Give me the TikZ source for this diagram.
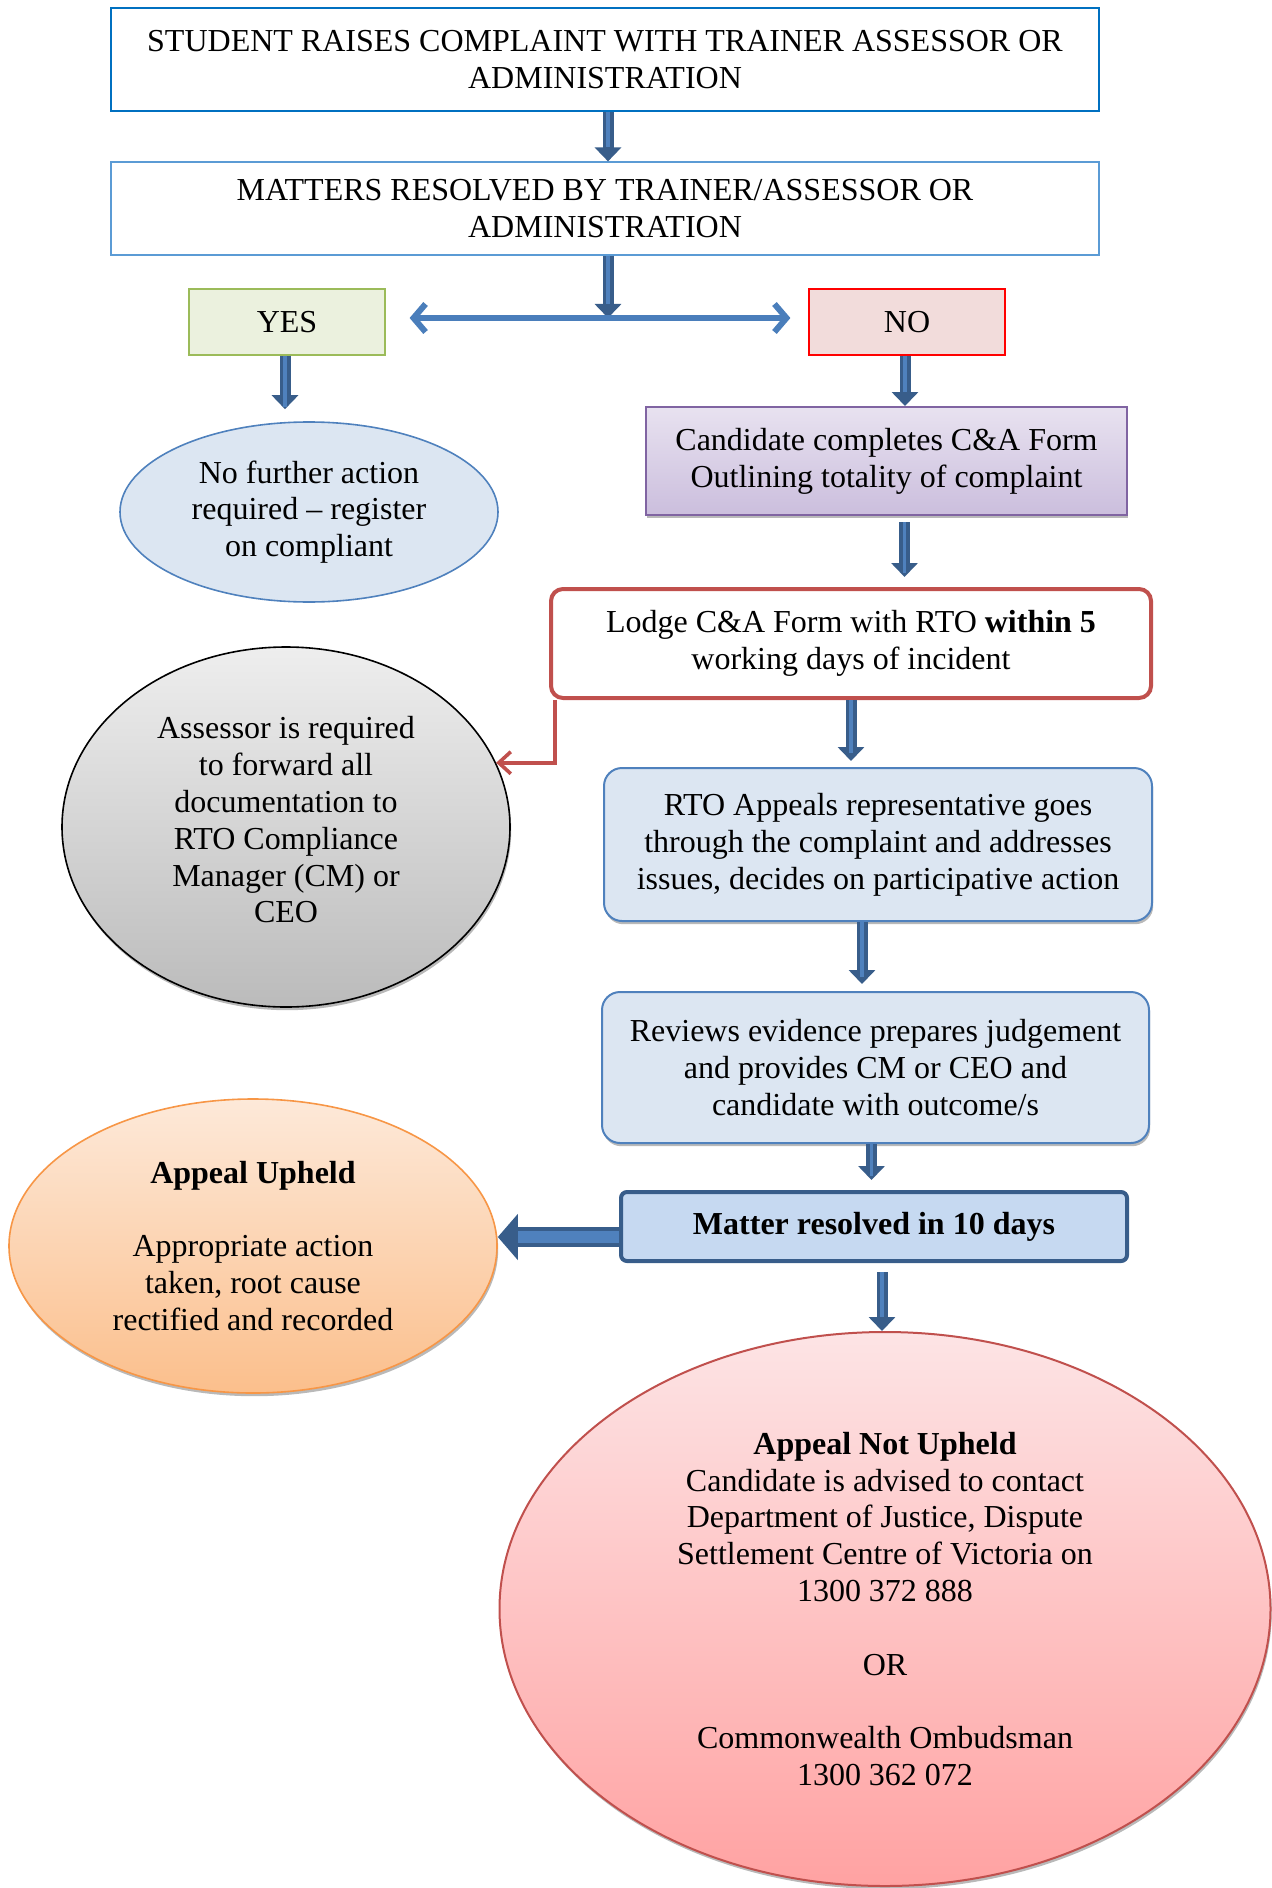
\documentclass[tikz,border=0pt]{standalone}
\usepackage{fontspec}
\setmainfont{Liberation Serif}
\usetikzlibrary{shapes.geometric,arrows.meta,shadows}
\definecolor{topblue}{RGB}{0,112,192}
\definecolor{lblue}{RGB}{91,155,213}
\definecolor{yesfill}{HTML}{EBF1DE}
\definecolor{yesdraw}{HTML}{9BBB59}
\definecolor{nofill}{HTML}{F2DCDB}
\definecolor{nodraw}{HTML}{FF0000}
\definecolor{paleblue}{HTML}{DCE6F2}
\definecolor{midblue}{HTML}{4F81BD}
\definecolor{purtop}{HTML}{E8E2F0}
\definecolor{purbot}{HTML}{CBBEDD}
\definecolor{purdraw}{HTML}{8064A2}
\definecolor{reddraw}{HTML}{C0504D}
\definecolor{greytop}{HTML}{EEEEEE}
\definecolor{greybot}{HTML}{BBBBBB}
\definecolor{matterfill}{HTML}{C6D9F1}
\definecolor{darkblue}{HTML}{385D8A}
\definecolor{oratop}{HTML}{FDE9D9}
\definecolor{orabot}{HTML}{FBBF8C}
\definecolor{oradraw}{HTML}{F79646}
\definecolor{pinktop}{HTML}{FDE4E5}
\definecolor{pinkbot}{HTML}{FFA2A2}
\definecolor{dblblue}{HTML}{4A7EBB}
\begin{document}
\begin{tikzpicture}[x=0.5pt,y=-0.5pt,
  every node/.style={font=\fontsize{16}{18.4}\selectfont, align=center, inner sep=0pt},
  shad/.style={drop shadow={shadow xshift=0.6pt,shadow yshift=-1.6pt,fill=black!55,opacity=0.5}},
  blockarrow/.style={draw=darkblue, line width=5.5pt, -{Triangle[width=13pt,length=7pt]},
    postaction={draw=midblue, line width=1.6pt, -, shorten >=7pt}},
  bigarrow/.style={draw=darkblue, line width=10pt, -{Triangle[width=22.5pt,length=10pt]},
    postaction={draw=midblue, line width=6pt, -, shorten >=10pt}},
  dblarrow/.style={draw=dblblue, line width=3pt, {Straight Barb[length=6pt,width=14pt]}-{Straight Barb[length=6pt,width=14pt]}},
  redconn/.style={draw=reddraw, line width=1.8pt, -{Straight Barb[length=6pt,width=11pt]}},
  ell/.style={ellipse, inner sep=0pt},
]
\useasboundingbox (0,0) rectangle (1271,1888);

% boxes
\node[draw=topblue, line width=1.2pt, fill=white, minimum width=494pt, minimum height=51.5pt] (top) at (605,59.5)
  {STUDENT RAISES COMPLAINT WITH TRAINER ASSESSOR OR\\ADMINISTRATION};
\node[draw=lblue, line width=0.6pt, fill=white, minimum width=494pt, minimum height=46.5pt] (box2) at (605,208.5)
  {MATTERS RESOLVED BY TRAINER/ASSESSOR OR\\ADMINISTRATION};
\node[draw=yesdraw, fill=yesfill, line width=0.6pt, minimum width=98pt, minimum height=33pt] (yes) at (287,322) {YES};
\node[draw=nodraw, fill=nofill, line width=0.6pt, minimum width=98pt, minimum height=33pt] (no) at (907,322) {NO};
\node[ell, draw=midblue, fill=paleblue, line width=0.8pt, minimum width=189pt, minimum height=90pt] (ell1) at (309,512)
  {No further action\\required -- register\\on compliant};
\node[shad, draw=purdraw, line width=1pt, top color=purtop, bottom color=purbot, minimum width=240.5pt, minimum height=54pt] (pur) at (886.5,461)
  {Candidate completes C\&A Form\\Outlining totality of complaint};
\node[draw=reddraw, line width=2pt, fill=white, rounded corners=6pt, minimum width=300pt, minimum height=54.5pt] (lodge) at (851,643.5)
  {Lodge C\&A Form with RTO \textbf{within 5}\\working days of incident};
\node[ell, shad, draw=black, line width=0.8pt, top color=greytop, bottom color=greybot, minimum width=224pt, minimum height=180pt] (grey) at (286,827) {};
\node (greytxt) at ([yshift=3.5pt]grey.center)
  {Assessor is required\\to forward all\\documentation to\\RTO Compliance\\Manager (CM) or\\CEO};
\node[shad, draw=midblue, fill=paleblue, line width=1pt, rounded corners=9pt, minimum width=274pt, minimum height=76.5pt] (rto) at (878,844.5)
  {RTO Appeals representative goes\\through the complaint and addresses\\issues, decides on participative action};
\node[shad, draw=midblue, fill=paleblue, line width=1pt, rounded corners=9pt, minimum width=273.5pt, minimum height=75.5pt] (rev) at (875.5,1067.5)
  {Reviews evidence prepares judgement\\and provides CM or CEO and\\candidate with outcome/s};
\node[draw=darkblue, fill=matterfill, line width=2pt, rounded corners=3pt, minimum width=253pt, minimum height=34.5pt] (matter) at (874,1226.5)
  {\textbf{Matter resolved in 10 days}};
\node[ell, shad, draw=oradraw, line width=0.8pt, top color=oratop, bottom color=orabot, minimum width=244pt, minimum height=147pt] (ora) at (253,1246)
  {\textbf{Appeal Upheld}\\[18.4pt]Appropriate action\\taken, root cause\\rectified and recorded};
\node[ell, shad, draw=reddraw, line width=1pt, top color=pinktop, bottom color=pinkbot, minimum width=385.5pt, minimum height=277pt] (pink) at (885,1609)
  {\textbf{Appeal Not Upheld}\\Candidate is advised to contact\\Department of Justice, Dispute\\Settlement Centre of Victoria on\\1300 372 888\\[18.4pt]OR\\[18.4pt]Commonwealth Ombudsman\\1300 362 072};

% connectors
\coordinate (split) at (608,318);
\draw[blockarrow] ([xshift=1.5pt]top.south) -- ([xshift=1.5pt]box2.north);
\draw[blockarrow] ([xshift=1.5pt]box2.south) -- (split);
\draw[dblarrow, shorten <=12pt, shorten >=9pt] (yes.east |- split) -- (no.west |- split);
\draw[blockarrow, shorten >=6pt] ([xshift=-1pt]yes.south) -- ([xshift=-1pt]yes.south |- ell1.north);
\draw[blockarrow] ([xshift=-1pt]no.south) -- ([xshift=-1pt]no.south |- pur.north);
\draw[blockarrow, shorten <=3pt, shorten >=5pt] ([xshift=9pt]pur.south) -- ([xshift=9pt]pur.south |- lodge.north);
\draw[blockarrow, shorten >=3pt] (lodge.south) -- (lodge.south |- rto.north);
\draw[blockarrow, shorten >=3.5pt] ([xshift=-8pt]rto.south) -- ([xshift=-8pt]rto.south |- rev.north);
\draw[blockarrow, shorten >=5pt] ([xshift=-2pt]rev.south) -- ([xshift=-2pt]rev.south |- matter.north);
\draw[blockarrow, shorten <=4.5pt] ([xshift=4pt]matter.south) -- ([xshift=4pt]matter.south |- pink.north);
\draw[bigarrow] (matter.west |- 0,1237) -- (ora.east |- 0,1237);
\draw[redconn] ([xshift=3pt]lodge.south west) |- (grey.17);
\end{tikzpicture}
\end{document}
